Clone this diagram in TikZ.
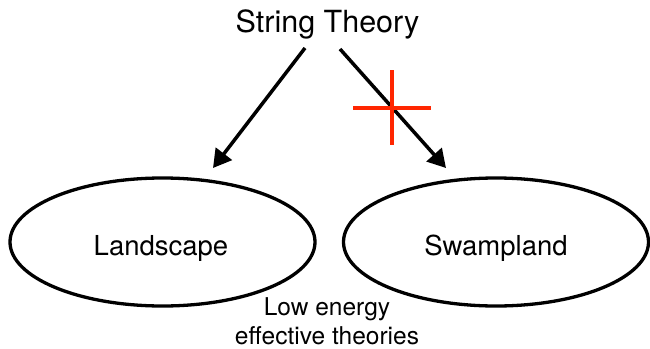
\documentclass[tikz,border=0pt]{standalone}
\usepackage{fontspec}
\setmainfont{TeX Gyre Heros}
\usetikzlibrary{arrows.meta,shapes.geometric}
\definecolor{crossred}{RGB}{255,38,0}
\tikzset{
  oval/.style={draw=black, line width=3.3pt, ellipse, minimum width=305pt, minimum height=128pt, inner sep=0pt},
  lbl/.style={anchor=base, inner sep=0pt, font=\fontsize{27.5}{33}\selectfont},
  arr/.style={line width=3.5pt, -{Triangle[length=18pt,width=20pt]}},
  crossline/.style={draw=crossred, line width=3.5pt}
}
\begin{document}
\begin{tikzpicture}[x=1pt,y=-1pt]
\useasboundingbox (0,0) rectangle (650,348);
\node[anchor=base, inner sep=0pt, font=\fontsize{30.5}{36}\selectfont] (st) at (327.5,32) {String Theory};
\node[oval] (le) at (162.5,242) {};
\node[oval] (re) at (496,242) {};
\node[lbl] (lt) at (161,255) {Landscape};
\node[lbl] (rt) at (496,255) {Swampland};
\node[anchor=base, inner sep=0pt, align=center, font=\fontsize{24.5}{28.5}\selectfont] (low) at (327,344) {Low energy\\effective theories};
\coordinate (s1) at (305,48);
\coordinate (t1) at (213,168);
\coordinate (s2) at (340,49);
\coordinate (t2) at (446,168);
\draw[arr] (s1) -- (t1);
\draw[arr] (s2) -- (t2);
\coordinate (cv1) at (392,70);
\coordinate (cv2) at (392,145);
\coordinate (ch1) at (353,108);
\coordinate (ch2) at (431,108);
\draw[crossline] (cv1) -- (cv2);
\draw[crossline] (ch1) -- (ch2);
\end{tikzpicture}
\end{document}
